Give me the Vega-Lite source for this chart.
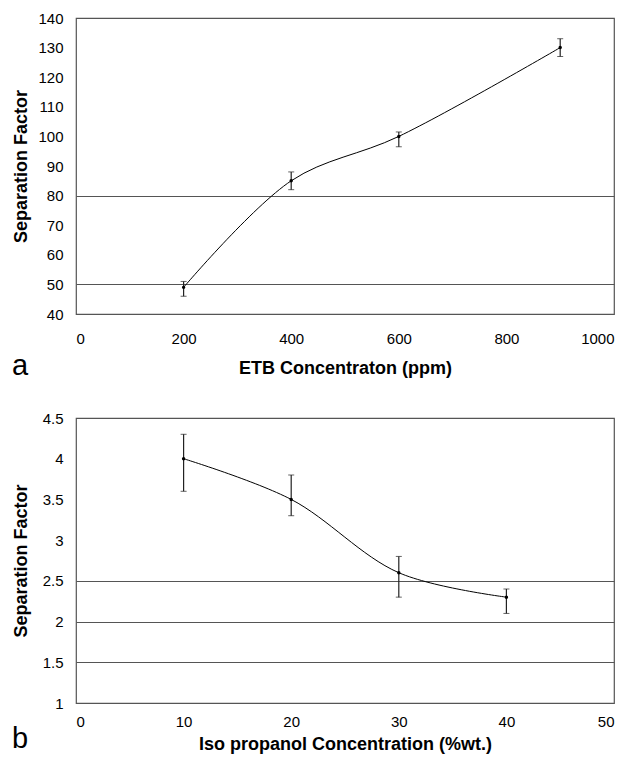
{
  "$schema": "https://vega.github.io/schema/vega-lite/v6.json",
  "background": "white",
  "padding": {"left": 11, "top": 10, "right": 5, "bottom": 5},
  "config": {
    "font": "Liberation Sans",
    "view": {"stroke": "#555", "strokeWidth": 1.2},
    "axis": {
      "domain": false,
      "ticks": false,
      "labelFont": "Liberation Sans",
      "labelFontSize": 15,
      "labelColor": "#000",
      "titleFont": "Liberation Sans",
      "titleFontSize": 18,
      "titleFontWeight": "bold",
      "titleColor": "#000",
      "gridColor": "#555",
      "gridWidth": 1.2
    },
    "concat": {"spacing": 104},
    "title": {"font": "Liberation Sans", "fontSize": 29, "fontWeight": "normal", "color": "#000"}
  },
  "datasets": {
    "etb": [
      {"x": 200, "y": 49, "lo": 46, "hi": 51},
      {"x": 400, "y": 85, "lo": 82, "hi": 88},
      {"x": 600, "y": 100, "lo": 96.5, "hi": 101.5},
      {"x": 900, "y": 130, "lo": 127, "hi": 133}
    ],
    "ipa": [
      {"x": 10, "y": 4.0, "lo": 3.6, "hi": 4.3},
      {"x": 20, "y": 3.5, "lo": 3.3, "hi": 3.8},
      {"x": 30, "y": 2.6, "lo": 2.3, "hi": 2.8},
      {"x": 40, "y": 2.3, "lo": 2.1, "hi": 2.4}
    ]
  },
  "bounds": "flush",
  "vconcat": [
    {
      "width": 538,
      "height": 296,
      "data": {"name": "etb"},
      "title": {"text": "a", "orient": "bottom", "anchor": "start", "frame": "group", "dx": -64, "dy": -29},
      "encoding": {
        "x": {"field": "x", "type": "quantitative",
              "scale": {"domain": [0, 1000], "nice": false},
              "axis": {"values": [0, 200, 400, 600, 800, 1000], "format": "d", "title": "ETB Concentraton (ppm)", "labelPadding": 17, "titlePadding": 13, "grid": false}},
        "y": {"field": "y", "type": "quantitative",
              "scale": {"domain": [40, 140], "nice": false, "zero": false},
              "axis": {"values": [40, 50, 60, 70, 80, 90, 100, 110, 120, 130, 140], "title": "Separation Factor", "labelPadding": 13, "titlePadding": 7, "grid": true,
                       "gridOpacity": {"condition": {"test": "datum.value == 50 || datum.value == 80", "value": 1}, "value": 0}}}
      },
      "layer": [
        {"mark": {"type": "rule", "color": "#222", "strokeWidth": 1.2}, "encoding": {"y": {"field": "lo", "type": "quantitative"}, "y2": {"field": "hi"}}},
        {"mark": {"type": "tick", "orient": "horizontal", "size": 6, "thickness": 1, "color": "#222"}, "encoding": {"y": {"field": "lo", "type": "quantitative"}}},
        {"mark": {"type": "tick", "orient": "horizontal", "size": 6, "thickness": 1, "color": "#222"}, "encoding": {"y": {"field": "hi", "type": "quantitative"}}},
        {"mark": {"type": "line", "interpolate": "catmull-rom", "color": "#000", "strokeWidth": 1}},
        {"mark": {"type": "point", "filled": true, "size": 12, "color": "#000", "opacity": 1}}
      ]
    },
    {
      "width": 538,
      "height": 285,
      "data": {"name": "ipa"},
      "title": {"text": "b", "orient": "bottom", "anchor": "start", "frame": "group", "dx": -64, "dy": -32},
      "encoding": {
        "x": {"field": "x", "type": "quantitative",
              "scale": {"domain": [0, 50], "nice": false},
              "axis": {"values": [0, 10, 20, 30, 40, 50], "title": "Iso propanol Concentration (%wt.)", "labelPadding": 11, "titlePadding": 6, "grid": false}},
        "y": {"field": "y", "type": "quantitative",
              "scale": {"domain": [1, 4.5], "nice": false, "zero": false},
              "axis": {"values": [1, 1.5, 2, 2.5, 3, 3.5, 4, 4.5], "format": "~g", "title": "Separation Factor", "labelPadding": 13, "titlePadding": 12, "grid": true,
                       "gridOpacity": {"condition": {"test": "datum.value == 1.5 || datum.value == 2 || datum.value == 2.5", "value": 1}, "value": 0}}}
      },
      "layer": [
        {"mark": {"type": "rule", "color": "#222", "strokeWidth": 1.2}, "encoding": {"y": {"field": "lo", "type": "quantitative"}, "y2": {"field": "hi"}}},
        {"mark": {"type": "tick", "orient": "horizontal", "size": 6, "thickness": 1, "color": "#222"}, "encoding": {"y": {"field": "lo", "type": "quantitative"}}},
        {"mark": {"type": "tick", "orient": "horizontal", "size": 6, "thickness": 1, "color": "#222"}, "encoding": {"y": {"field": "hi", "type": "quantitative"}}},
        {"mark": {"type": "line", "interpolate": "catmull-rom", "color": "#000", "strokeWidth": 1}},
        {"mark": {"type": "point", "filled": true, "size": 12, "color": "#000", "opacity": 1}}
      ]
    }
  ]
}
